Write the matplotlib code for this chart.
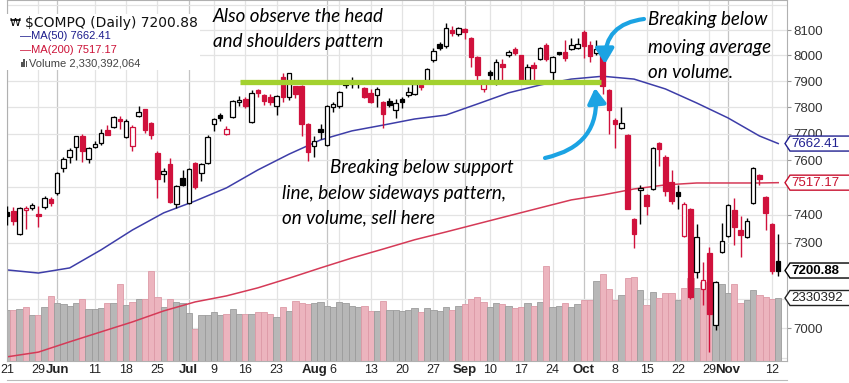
import numpy as np
import matplotlib.pyplot as plt
from matplotlib.patches import Rectangle, Polygon, FancyArrowPatch
from matplotlib.lines import Line2D
from matplotlib.transforms import blended_transform_factory, IdentityTransform
from matplotlib.ticker import NullLocator

W, H = 849, 383

# $COMPQ daily candles, May 21 - Nov 13 2018
opens = [7410, 7412, 7330, 7418, 7424, 7402, 7428, 7458, 7478, 7570,
         7614, 7650, 7691, 7604, 7650, 7665, 7712, 7723, 7756, 7687,
         7653, 7766, 7792, 7740, 7627, 7550, 7585, 7440, 7533, 7443,
         7590, 7553, 7590, 7735, 7772, 7700, 7762, 7820, 7832, 7743,
         7864, 7845, 7838, 7805, 7916, 7840, 7880, 7882, 7735, 7655,
         7716, 7658, 7800, 7806, 7895, 7895, 7895, 7875, 7855, 7845,
         7820, 7825, 7790, 7830, 7845, 7850, 7885, 7904, 7984, 8045,
         8037, 8100, 8083, 8105, 8068, 7995, 7870, 7935, 7905, 7966,
         8000, 8025, 8000, 7905, 7962, 7985, 8041, 7934, 8013, 8012,
         8025, 8028, 8092, 8040, 8010, 8025, 7867, 7752, 7722, 7694,
         7385, 7490, 7472, 7495, 7666, 7612, 7520, 7482, 7323, 7420,
         7195, 7135, 7262, 7012, 7265, 7325, 7417, 7345, 7320, 7444,
         7545, 7465, 7367, 7235]
highs = [7432, 7428, 7428, 7432, 7442, 7432, 7470, 7465, 7556, 7614,
         7645, 7691, 7697, 7650, 7672, 7716, 7734, 7765, 7765, 7756,
         7731, 7806, 7793, 7742, 7634, 7572, 7608, 7510, 7563, 7571,
         7592, 7590, 7694, 7760, 7778, 7730, 7828, 7843, 7838, 7866,
         7868, 7852, 7850, 7847, 7933, 7933, 7880, 7885, 7740, 7690,
         7735, 7810, 7820, 7862, 7905, 7915, 7898, 7876, 7868, 7877,
         7822, 7835, 7830, 7840, 7878, 7892, 7895, 7950, 8028, 8052,
         8128, 8118, 8114, 8110, 8072, 7996, 7905, 7945, 7985, 7985,
         8020, 8035, 8000, 7968, 7975, 8035, 8048, 7998, 8015, 8062,
         8070, 8068, 8100, 8058, 8060, 8035, 7868, 7760, 7800, 7700,
         7388, 7507, 7474, 7650, 7670, 7620, 7565, 7510, 7445, 7425,
         7365, 7230, 7285, 7165, 7370, 7440, 7460, 7395, 7390, 7575,
         7550, 7470, 7370, 7330]
lows = [7363, 7363, 7328, 7350, 7418, 7355, 7420, 7430, 7472, 7555,
        7590, 7600, 7592, 7590, 7645, 7658, 7694, 7720, 7717, 7682,
        7635, 7762, 7702, 7680, 7462, 7520, 7442, 7423, 7505, 7440,
        7495, 7524, 7585, 7710, 7748, 7696, 7758, 7805, 7795, 7740,
        7838, 7808, 7810, 7772, 7820, 7828, 7835, 7690, 7596, 7612,
        7680, 7655, 7782, 7795, 7875, 7875, 7875, 7835, 7815, 7800,
        7720, 7800, 7757, 7795, 7840, 7846, 7866, 7900, 7976, 8022,
        8030, 8076, 8076, 8065, 7955, 7904, 7860, 7905, 7885, 7905,
        7995, 8000, 7890, 7895, 7900, 7982, 7980, 7905, 8003, 7980,
        8020, 8025, 7990, 7975, 8000, 7852, 7700, 7646, 7718, 7420,
        7280, 7365, 7400, 7490, 7580, 7470, 7440, 7420, 7320, 7100,
        7175, 7080, 6920, 6995, 7262, 7320, 7290, 7250, 7315, 7440,
        7510, 7345, 7190, 7180]
closes = [7394.04, 7378.46, 7425.96, 7424.43, 7433.85, 7396.59, 7462.45, 7442.12, 7554.33, 7606.46,
          7637.86, 7689.24, 7635.07, 7645.51, 7659.93, 7703.79, 7695.70, 7761.04, 7746.38, 7747.03,
          7725.59, 7781.51, 7712.95, 7692.82, 7532.01, 7561.63, 7445.08, 7503.68, 7510.30, 7567.69,
          7502.67, 7586.43, 7688.39, 7756.20, 7759.20, 7716.61, 7823.92, 7825.98, 7805.72, 7855.12,
          7854.44, 7825.30, 7820.20, 7841.87, 7840.77, 7932.24, 7852.18, 7737.42, 7630.00, 7671.79,
          7707.29, 7802.69, 7812.01, 7859.68, 7883.66, 7888.33, 7891.78, 7839.11, 7819.71, 7870.89,
          7774.12, 7806.52, 7816.33, 7821.01, 7859.17, 7889.10, 7878.46, 7945.98, 8017.90, 8030.04,
          8109.54, 8088.36, 8109.69, 8091.25, 7995.17, 7922.73, 7902.54, 7924.16, 7972.47, 7954.23,
          8013.71, 8010.04, 7895.79, 7956.11, 7950.04, 8028.23, 7986.96, 7993.25, 8007.47, 7990.37,
          8041.97, 8046.35, 8037.30, 7999.55, 8025.09, 7879.51, 7788.45, 7735.95, 7738.02, 7422.05,
          7329.06, 7496.89, 7430.74, 7645.49, 7642.70, 7485.14, 7449.03, 7468.63, 7437.54, 7108.40,
          7318.34, 7167.21, 7050.29, 7161.65, 7305.90, 7434.06, 7356.99, 7328.85, 7375.96, 7570.75,
          7530.88, 7406.90, 7200.87, 7200.88]
prev_close = 7354.34

# volume, millions of shares
volumes = [1887, 1887, 1924, 1998, 1702, 1702, 1998, 2405, 2146, 2109,
           2035, 2146, 2294, 1924, 1924, 1961, 2146, 2146, 2849, 2072,
           2183, 2294, 2294, 3330, 2368, 1998, 2294, 2183, 2146, 1776,
           1184, 1702, 1702, 1813, 1702, 1739, 1924, 1739, 1739, 1739,
           1813, 1813, 1739, 1628, 1998, 1850, 2220, 2146, 2109, 2146,
           2183, 2035, 1998, 2183, 2146, 2035, 1998, 2035, 1850, 1850,
           2220, 1887, 1887, 1850, 1900, 1950, 1800, 1950, 1900, 1850,
           2000, 1900, 2050, 2100, 2300, 2350, 2200, 2000, 2150, 2100,
           2050, 1950, 2000, 2150, 2050, 2200, 3500, 2000, 2050, 2150,
           2000, 2100,
           2257, 2257, 2960, 3219, 2664, 2257, 2442, 3071, 3108, 2627,
           2072, 2553, 2331, 2516, 2516, 2257, 2701, 3071, 2701, 2923,
           2627, 2849, 2849, 2516, 2849, 2146, 2257, 2627, 2442, 2368,
           2294, 2330.39]

# moving averages sampled along the chart (trading-day index)
ma_days = [0, 5, 10, 15, 20, 25, 30, 35, 40, 45, 50, 55, 60, 65, 70, 75,
           80, 85, 90, 95, 100, 105, 110, 115, 120, 123]
ma50 = [7203, 7192, 7210, 7274, 7345, 7407, 7450, 7498, 7564, 7623, 7676, 7710, 7732,
        7755, 7770, 7812, 7855, 7885, 7908, 7919, 7908, 7870, 7816, 7759, 7691, 7662.41]
ma200 = [6903, 6919, 6954, 6988, 7022, 7060, 7091, 7112, 7140, 7174, 7210, 7245, 7277,
         7310, 7338, 7367, 7396, 7425, 7454, 7472, 7494, 7509, 7516, 7516, 7516, 7517.17]

tick_days = [0, 5, 8, 14, 19, 24, 29, 33, 38, 43, 51, 53, 58, 63, 68, 73, 77, 82, 87,
             92, 97, 102, 107, 112, 115, 122]
tick_labels = ['21', '29', 'Jun', '11', '18', '25', 'Jul', '9', '16', '23', 'Aug', '6',
               '13', '20', '27', 'Sep', '10', '17', '24', 'Oct', '8', '15', '22', '29',
               'Nov', '12']
months = ['Jun', 'Jul', 'Aug', 'Sep', 'Oct', 'Nov']
price_ticks = list(range(7000, 8200, 100))
hidden_ticks = [7100, 7200, 7500]   # covered by the value tags

support_level = 7895
support_from, support_to = 37.2, 94.7

last_close = '7200.88'
last_ma50 = '7662.41'
last_ma200 = '7517.17'
last_vol = 2330392064

red = '#d0113c'
ma50_col = '#3d3da8'
ma200_col = '#d53a57'
arrow_col = '#1ba3e3'

fig = plt.figure(figsize=(W / 100, H / 100), dpi=100)
ax = fig.add_axes([6.5 / W, 1 - 361 / H, 780 / W, 361 / H])
ax.set_yscale('log')
ax.set_xlim(-0.08, 124.32)
ax.set_ylim(6889, 8220)
ax.set_facecolor('white')

# grid
for d, lab in zip(tick_days, tick_labels):
    ax.axvline(d, color='#c4c4c4' if lab in months else '#e3e3e3', lw=0.9, zorder=0)
for p in range(6900, 8300, 100):
    ax.axhline(p, color='#e3e3e3', lw=0.9, zorder=0)

# volume bars in the lower part of the price panel
n = len(closes)
x = np.arange(n)
prevs = [prev_close] + closes[:-1]
vtop = (last_vol / 1e6) * 361 / 63
vtrans = blended_transform_factory(ax.transData, ax.transAxes)
for i in range(n):
    down = closes[i] < prevs[i]
    ax.add_patch(Rectangle((i - 0.5, 0), 1.0, volumes[i] / vtop, transform=vtrans,
                           fc='#ecb4be' if down else '#b7b7b7',
                           ec='#dd9aa7' if down else '#9c9c9c', lw=0.6, zorder=1))

ax.plot(ma_days, ma200, color=ma200_col, lw=1.1, zorder=2)
ax.plot(ma_days, ma50, color=ma50_col, lw=1.1, zorder=2)

# candles
for i in range(n):
    o, h, l, c = opens[i], highs[i], lows[i], closes[i]
    col = 'black' if c >= prevs[i] else red
    ax.vlines(i, l, h, color=col, lw=1.0, zorder=3)
    lo, hi = min(o, c), max(o, c)
    if hi - lo < 4:
        hi = lo + 4
    ax.add_patch(Rectangle((i - 0.36, lo), 0.72, hi - lo,
                           fc=col if c < o else 'white', ec=col, lw=0.9, zorder=4))

# support line
ax.plot([support_from, support_to], [support_level, support_level],
        color='#a3d12f', lw=3.8, solid_capstyle='butt', zorder=6)

# axes cosmetics
for s in ax.spines.values():
    s.set_color('#b0b0b0')
    s.set_linewidth(0.8)
ax.yaxis.tick_right()
ax.set_yticks(price_ticks)
ax.set_yticklabels(['' if p in hidden_ticks else str(p) for p in price_ticks])
ax.yaxis.set_minor_locator(NullLocator())
ax.tick_params(axis='y', which='major', length=3, pad=2, labelsize=9.5,
               labelcolor='#333333', color='#999999')
for t in ax.get_yticklabels():
    t.set_fontfamily('Liberation Sans')
ax.set_xticks([])

xtrans = blended_transform_factory(ax.transData, ax.transAxes)
shift = {'Aug': -1.9, '6': -1.1}
for d, lab in zip(tick_days, tick_labels):
    bold = lab in months
    ax.text(d + shift.get(lab, 0), -9 / 361, lab, transform=xtrans, ha='center', va='center',
            fontsize=9.5 if bold else 9, fontweight='bold' if bold else 'normal',
            family='Liberation Sans', color='#222222', clip_on=False)

fig.add_artist(Line2D([6.5 / W, 786.5 / W], [1 - 380 / H] * 2, color='#bbbbbb', lw=0.8))

# value tags on the right axis
fig.canvas.draw()


def tag(ydisp, text, color, bold=False):
    x0, hh = 785, 7.5
    poly = Polygon([[x0, ydisp], [x0 + 5, ydisp + hh], [W + 3, ydisp + hh],
                    [W + 3, ydisp - hh], [x0 + 5, ydisp - hh]], closed=True,
                   transform=IdentityTransform(), fc='white', ec=color, lw=1.0, zorder=10)
    fig.add_artist(poly)
    fig.text(x0 + 6, ydisp, text, transform=IdentityTransform(), va='center', ha='left',
             fontsize=9.5, family='Liberation Sans', color=color,
             fontweight='bold' if bold else 'normal', zorder=11)


def price_y(p):
    return ax.transData.transform((0, p))[1]


tag(price_y(float(last_ma50)), last_ma50, '#202090')
tag(price_y(float(last_ma200)), last_ma200, '#c8102e')
tag(price_y(float(last_close)), last_close, 'black', bold=True)
tag(ax.transAxes.transform((0, last_vol / 1e6 / vtop))[1], str(last_vol // 1000), '#222222')

# legend block (top-left)
def legend_line(xp, yp, s, color, size, fam):
    fig.text(xp / W, 1 - yp / H, s, color=color, fontsize=size, family=fam, va='center',
             ha='left', zorder=12,
             bbox=dict(boxstyle='square,pad=0.12', fc='white', ec='none'))


fig.add_artist(Rectangle((0, 1 - 70 / H), 200 / W, 56 / H, transform=fig.transFigure,
                         fc='white', ec='none', zorder=11))
legend_line(10, 22.5, '\u20a9', 'black', 8, 'DejaVu Sans')
legend_line(25, 22.5, '$COMPQ (Daily) ' + last_close, '#111111', 10, 'DejaVu Sans')
legend_line(20, 36, '\u2014MA(50) ' + last_ma50, '#1c1c8c', 8, 'Liberation Sans')
legend_line(20, 50, '\u2014MA(200) ' + last_ma200, '#cc1238', 8, 'Liberation Sans')
legend_line(29, 63, 'Volume {:,}'.format(last_vol), '#444444', 8, 'Liberation Sans')
for k, hgt in enumerate([5, 8, 6]):
    fig.add_artist(Rectangle(((21 + 2.4 * k) / W, 1 - 67 / H), 1.6 / W, hgt / H,
                             transform=fig.transFigure, fc='#555555', ec='none', zorder=13))

# annotations
note = dict(fontsize=13.5, fontstyle='italic', family='Lato', color='black',
            va='center', ha='left', zorder=12)
fig.text(213 / W, 1 - 17 / H, 'Also observe the head', **note)
fig.text(213 / W, 1 - 42 / H, 'and shoulders pattern', **note)
fig.text(648 / W, 1 - 20 / H, 'Breaking below', **note)
fig.text(648 / W, 1 - 47 / H, 'moving average', **note)
fig.text(648 / W, 1 - 72 / H, 'on volume.', **note)
fig.text(330 / W, 1 - 168 / H, 'Breaking below support', **note)
fig.text(282 / W, 1 - 193 / H, 'line, below sideways pattern,', **note)
fig.text(282 / W, 1 - 218 / H, 'on volume, sell here', **note)

arrows = [((545, 158), (595, 88), 0.45), ((644, 19), (605, 64), 0.45)]
for (x1, y1), (x2, y2), rad in arrows:
    fig.add_artist(FancyArrowPatch((x1 / W, 1 - y1 / H), (x2 / W, 1 - y2 / H),
                                   transform=fig.transFigure,
                                   connectionstyle='arc3,rad={}'.format(rad),
                                   arrowstyle='-|>,head_length=0.9,head_width=0.55',
                                   mutation_scale=10, lw=3, color=arrow_col,
                                   shrinkA=0, shrinkB=0, zorder=14))

fig.savefig('out.png', dpi=100)
